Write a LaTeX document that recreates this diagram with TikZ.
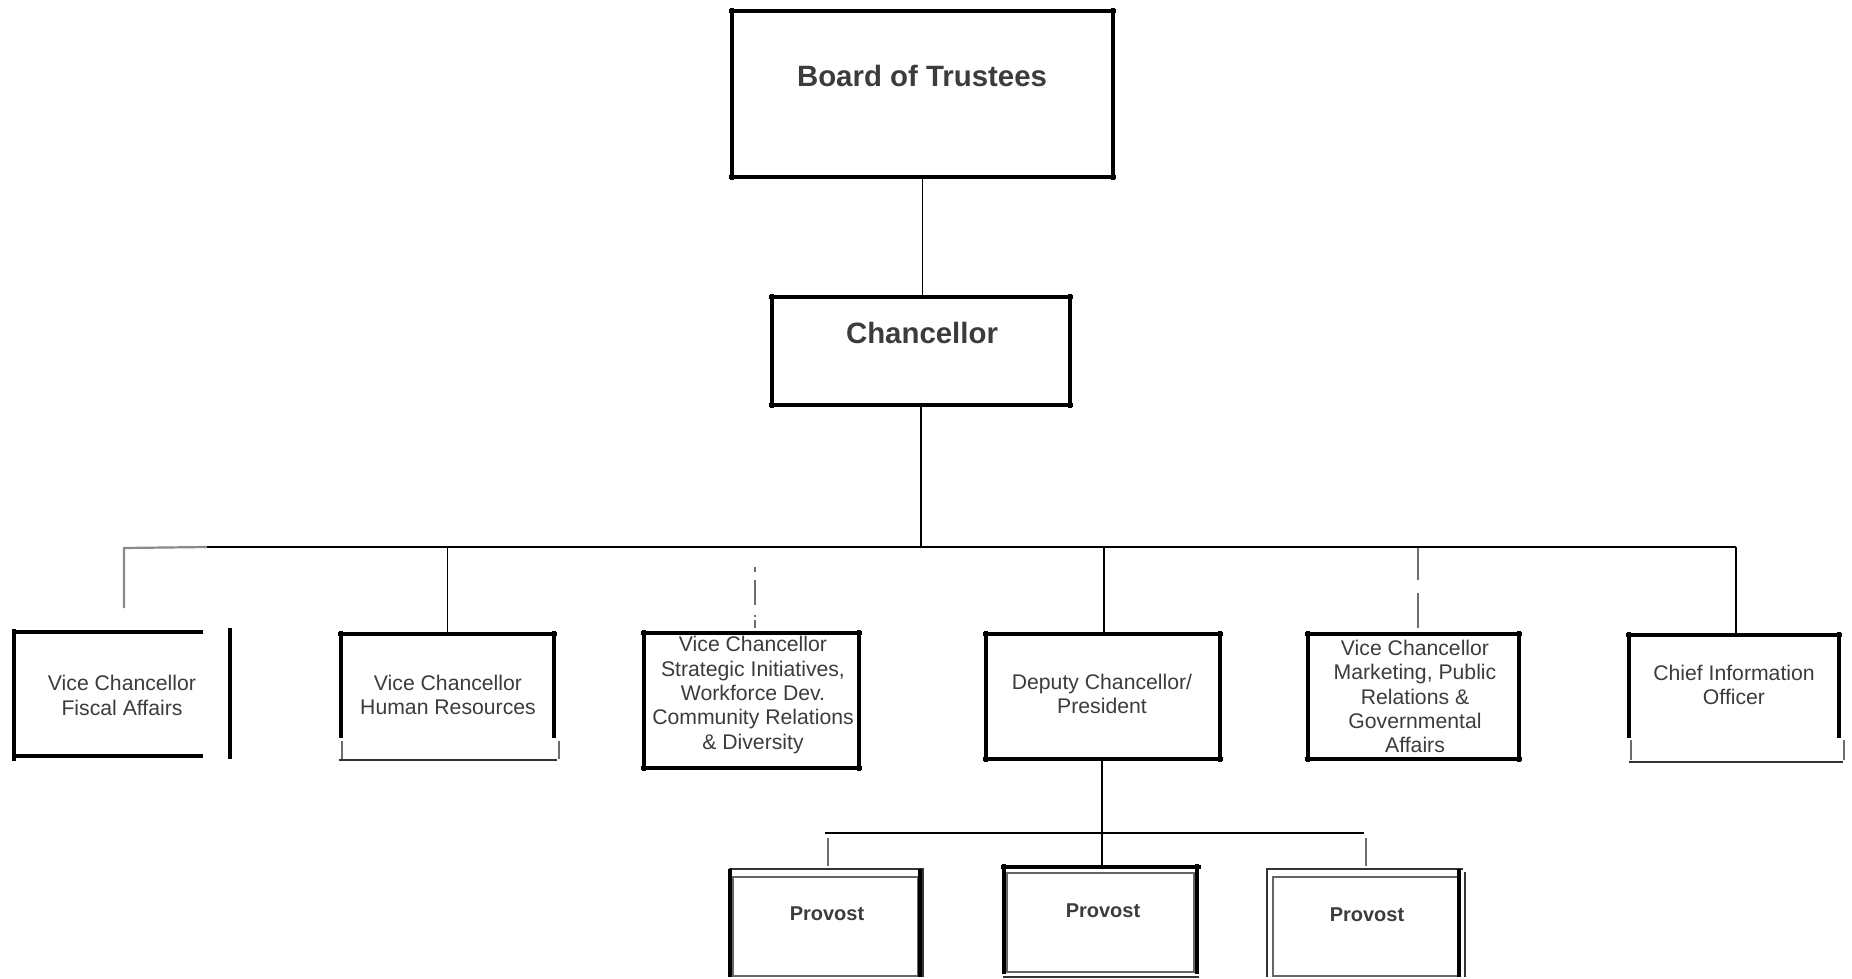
\documentclass[tikz,border=0pt]{standalone}
\usepackage{fontspec}
\setmainfont{Liberation Sans}
\definecolor{txt}{HTML}{3C3C3C}
\definecolor{gline}{HTML}{6E6E6E}
\definecolor{lgline}{HTML}{8A8A8A}
\newcommand\xbox[1]{%
  \draw[bline] ([xshift=-1.5pt]#1.north west) -- ([xshift=1.5pt]#1.north east);
  \draw[bline] ([xshift=-1.5pt]#1.south west) -- ([xshift=1.5pt]#1.south east);
  \draw[bline] ([yshift=1.5pt]#1.north west) -- ([yshift=-1.5pt]#1.south west);
  \draw[bline] ([yshift=1.5pt]#1.north east) -- ([yshift=-1.5pt]#1.south east);}
\begin{document}
\begin{tikzpicture}[x=0.5pt,y=-0.5pt,
  boxarea/.style={draw=none,inner sep=0pt,outer sep=0pt,rectangle},
  bline/.style={line width=1.8pt,black},
  conn/.style={line width=0.75pt,black},
  gconn/.style={line width=1.4pt,gline},
  thinl/.style={line width=0.7pt,black!80},
  ttl/.style={font=\bfseries\fontsize{14.7}{17}\selectfont,text=txt,inner sep=0pt},
  lbl/.style={font=\fontsize{10.6}{12.2}\selectfont,text=txt,align=center,inner sep=0pt},
  plbl/.style={font=\bfseries\fontsize{10}{12}\selectfont,text=txt,inner sep=0pt}]
\fill[white] (0,0) rectangle (1852,979);
\useasboundingbox (0,0) rectangle (1852,979);

% box areas
\node[boxarea,minimum width=190.5pt,minimum height=83pt] (board) at (922.5,94) {};
\node[boxarea,minimum width=149pt,minimum height=54pt] (chanc) at (921,351) {};
\node[boxarea,minimum width=94.5pt,minimum height=62pt] (fiscal) at (108.5,694) {};
\node[boxarea,minimum width=106.5pt,minimum height=63pt] (hr) at (447.5,697) {};
\node[boxarea,minimum width=107.5pt,minimum height=67.5pt] (strat) at (751.5,700.5) {};
\node[boxarea,minimum width=117pt,minimum height=62.5pt] (deputy) at (1103,696.5) {};
\node[boxarea,minimum width=105.5pt,minimum height=62.5pt] (mkt) at (1413.5,696.5) {};
\node[boxarea,minimum width=105pt,minimum height=63.5pt] (cio) at (1734,698.5) {};
\node[boxarea,minimum width=97pt,minimum height=54pt] (provL) at (826,923) {};
\node[boxarea,minimum width=98pt,minimum height=55pt] (provM) at (1101,922) {};
\node[boxarea,minimum width=99pt,minimum height=54pt] (provR) at (1366,923) {};

% texts
\node[ttl] (boardT) at (922,76) {Board of Trustees};
\node[ttl] (chancT) at (922,333) {Chancellor};
\node[lbl] (fiscalT) at (122,695.5) {Vice Chancellor\\Fiscal Affairs};
\node[lbl] (hrT) at (448,695) {Vice Chancellor\\Human Resources};
\node[lbl] (stratT) at (753,695) {Vice Chancellor\\Strategic Initiatives,\\Workforce Dev.\\Community Relations\\\& Diversity};
\node[lbl] (deputyT) at (1102,694) {Deputy Chancellor/\\President};
\node[lbl] (mktT) at (1415,696.5) {Vice Chancellor\\Marketing, Public\\Relations \&\\Governmental\\Affairs};
\node[lbl] (cioT) at (1734,685) {Chief Information\\Officer};
\node[plbl] (provLT) at (827,914) {Provost};
\node[plbl] (provMT) at (1103,911) {Provost};
\node[plbl] (provRT) at (1367,915) {Provost};

% full boxes
\xbox{board}
\xbox{chanc}
\xbox{strat}
\xbox{deputy}
\xbox{mkt}

% fiscal (open right side, separate bar)
\draw[bline] ([xshift=-1pt]fiscal.north west) -- (fiscal.north east);
\draw[bline] ([xshift=-1pt]fiscal.south west) -- (fiscal.south east);
\draw[bline] ([yshift=1.5pt]fiscal.north west) -- ([yshift=-2.5pt]fiscal.south west);
\draw[bline] ([shift={(27,-4)}]fiscal.north east) -- ([shift={(27,3)}]fiscal.south east);

% human resources
\draw[bline] ([xshift=-1.5pt]hr.north west) -- ([xshift=1.5pt]hr.north east);
\draw[bline] ([yshift=1.5pt]hr.north west) -- ([shift={(0,-22)}]hr.south west);
\draw[bline] ([yshift=1.5pt]hr.north east) -- ([shift={(0,-22)}]hr.south east);
\draw[gconn,line width=1pt] ([shift={(1,-19)}]hr.south west) -- ([shift={(1,-1)}]hr.south west);
\draw[gconn,line width=1pt] ([shift={(5,-19)}]hr.south east) -- ([shift={(5,-1)}]hr.south east);
\draw[thinl] ([xshift=-1pt]hr.south west) -- ([xshift=1.5pt]hr.south east);

% chief information officer
\draw[bline] ([xshift=-1.5pt]cio.north west) -- ([xshift=1.5pt]cio.north east);
\draw[bline] ([yshift=1.5pt]cio.north west) -- ([shift={(0,-24)}]cio.south west);
\draw[bline] ([yshift=1.5pt]cio.north east) -- ([shift={(0,-24)}]cio.south east);
\draw[gconn,line width=1pt] ([shift={(2,-22)}]cio.south west) -- ([shift={(2,-2)}]cio.south west);
\draw[gconn,line width=1pt] ([shift={(5,-22)}]cio.south east) -- ([shift={(5,-2)}]cio.south east);
\draw[thinl] (cio.south west) -- ([xshift=2pt]cio.south east);

% provost left
\draw[thinl] (provL.north west) -- (provL.north east) -- (provL.south east);
\draw[thinl,black!60] ([shift={(4,8)}]provL.north west) rectangle ([shift={(-5,-1)}]provL.south east);
\draw[bline] ([xshift=0.5pt]provL.north west) -- ([xshift=0.5pt]provL.south west);
\draw[bline] ([shift={(-3,0)}]provL.north east) -- ([shift={(-3,0)}]provL.south east);

% provost middle
\draw[thinl,black!60] ([shift={(4,6)}]provM.north west) rectangle ([shift={(-5,-5)}]provM.south east);
\draw[bline] ([xshift=-1pt]provM.north west) -- ([xshift=1pt]provM.north east);
\draw[bline] ([shift={(1,-3)}]provM.north west) -- ([shift={(1,-3)}]provM.south west);
\draw[bline] ([shift={(-2,-3)}]provM.north east) -- ([shift={(-2,-3)}]provM.south east);
\draw[thinl] (provM.south west) -- (provM.south east);

% provost right
\draw[thinl] (provR.south west) -- (provR.north west) -- ([xshift=-1pt]provR.north east);
\draw[thinl,black!60] ([shift={(6,8)}]provR.north west) rectangle ([shift={(-7,-1)}]provR.south east);
\draw[bline] ([shift={(-6,0)}]provR.north east) -- ([shift={(-6,0)}]provR.south east);
\draw[thinl] ([shift={(0,3)}]provR.north east) -- (provR.south east);

% connectors
\coordinate (busL) at (207,547);
\coordinate (busR) at (1736,547);
\coordinate (fcorner) at (124,548);
\coordinate (fend) at (124,608);
\coordinate (stop) at (755,567);
\coordinate (mtop) at (1418,548);
\coordinate (pbL) at (825,833);
\coordinate (pbR) at (1364,833);
\coordinate (plc) at (828,838);
\coordinate (prc) at (1366,838);

\draw[conn] (board.south) -- (board.south |- chanc.north);
\draw[conn] (chanc.south) -- (chanc.south |- busL);
\draw[conn] (busL) -- (busR);
\draw[gconn,lgline,line width=1.1pt] (busL) -- (fcorner) -- (fend);
\draw[conn] (hr.north |- busL) -- (hr.north);
\draw[gconn,dash pattern=on 2.5pt off 4pt on 12.5pt off 5pt on 1pt off 1.5pt on 4pt off 20pt]
  (stop) -- ([yshift=2.5pt]stop |- strat.north);
\draw[conn] ([xshift=0.5pt]deputy.north |- busL) -- ([xshift=0.5pt]deputy.north);
\draw[gconn,dash pattern=on 16pt off 6.5pt on 17.5pt off 20pt]
  (mtop) -- ([yshift=3pt]mtop |- mkt.north);
\draw[conn] (busR) -- (busR |- cio.north);
\draw[conn] ([xshift=-0.5pt]deputy.south) -- ([xshift=-0.5pt]deputy.south |- provM.north);
\draw[conn] (pbL) -- (pbR);
\draw[gconn] (plc) -- ([yshift=1.5pt]plc |- provL.north);
\draw[gconn] (prc) -- ([yshift=1.5pt]prc |- provR.north);
\end{tikzpicture}
\end{document}
